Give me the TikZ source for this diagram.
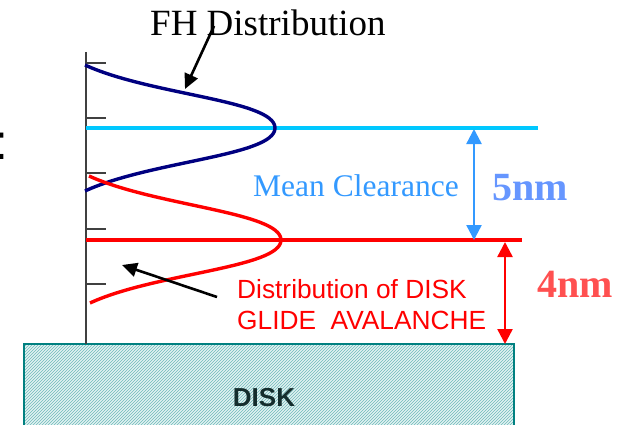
\documentclass[tikz,border=0pt]{standalone}
\usepackage{fontspec}
\setmainfont{Liberation Serif}
\setsansfont{Liberation Sans}
\usetikzlibrary{arrows.meta,patterns}
\definecolor{navyc}{RGB}{0,0,128}
\definecolor{cyanc}{RGB}{0,200,255}
\definecolor{bluec}{RGB}{51,153,255}
\definecolor{nmblue}{RGB}{102,150,255}
\definecolor{nmred}{RGB}{255,80,80}
\definecolor{tealc}{RGB}{0,128,128}
\definecolor{tealfill}{RGB}{225,242,242}
\definecolor{tealhatch}{RGB}{110,185,185}
\definecolor{axisc}{RGB}{64,64,64}
\tikzset{
  axisline/.style={draw=axisc, line width=2pt},
  curveblue/.style={draw=navyc, line width=3.4pt},
  curvered/.style={draw=red, line width=3.4pt},
  blackarrow/.style={draw=black, line width=2.6pt, -{Triangle[length=15pt,width=14pt]}},
  dimarrow/.style={line width=2.4pt, {Triangle[length=15pt,width=15pt]}-{Triangle[length=15pt,width=15pt]}},
  txt/.style={inner sep=0pt, anchor=base west},
}
\begin{document}
\begin{tikzpicture}[x=1pt,y=-1pt]
\useasboundingbox (0,0) rectangle (631,425);
% disk
\fill[tealfill] (24,344) rectangle (514,432);
\fill[pattern=north east lines, pattern color=tealhatch] (24,344) rectangle (514,432);
\draw[tealc, line width=2.2pt] (514,432) -- (514,344) -- (24,344) -- (24,432);
\node[inner sep=0pt, anchor=base, font=\sffamily\bfseries\fontsize{26}{26}\selectfont, text={rgb,255:red,20;green,45;blue,45}] (disk) at (264,406) {DISK};
% axis
\draw[axisline] (86,52) -- (86,344);
\foreach \yy in {63,118,173,229,284} \draw[axisline] (86,\yy) -- (106,\yy);
% horizontal lines
\draw[cyanc, line width=3.2pt] (86,128) coordinate (c0) -- (538,128) coordinate (c1);
\draw[red, line width=3.2pt] (86,240) coordinate (r0) -- (522,240) coordinate (r1);
% curves
\draw[curveblue] (85,65) .. controls (150,95) and (275,100) .. (275,128)
  .. controls (275,156) and (150,161) .. (85,191);
\draw[curvered] (89,176) .. controls (155,206) and (281,212) .. (281,240)
  .. controls (281,268) and (155,273) .. (90,303);
% dimension arrows
\coordinate (b1) at (474,129);
\coordinate (b2) at (474,240);
\draw[dimarrow, bluec] (b1) -- (b2);
\coordinate (d1) at (505,242);
\coordinate (d2) at (505,344);
\draw[dimarrow, red] (d1) -- (d2);
% texts
\node[txt, font=\fontsize{37}{37}\selectfont] (fh) at (150,36) {FH Distribution};
\node[txt, font=\fontsize{31.5}{31.5}\selectfont, text=bluec] (mean) at (253,196) {Mean Clearance};
\node[txt, font=\bfseries\fontsize{40}{40}\selectfont, text=nmblue] (five) at (492,200) {5nm};
\node[txt, font=\bfseries\fontsize{40}{40}\selectfont, text=nmred] (four) at (537,297) {4nm};
\node[txt, font=\sffamily\fontsize{26.3}{26.3}\selectfont, text=red] (dist1) at (237,298) {Distribution of DISK};
\node[txt, font=\sffamily\fontsize{26.3}{26.3}\selectfont, text=red] (dist2) at (237,329) {GLIDE\ \ AVALANCHE};
\node[txt, font=\sffamily\fontsize{50}{50}\selectfont] (colon) at (-6,159) {:};
% pointer arrows
\coordinate (fhs) at (214,26);
\coordinate (fht) at (185,89);
\draw[blackarrow] (fhs) -- (fht);
\coordinate (gs) at (217,297);
\coordinate (gt) at (122,265);
\draw[blackarrow] (gs) -- (gt);
\end{tikzpicture}
\end{document}
